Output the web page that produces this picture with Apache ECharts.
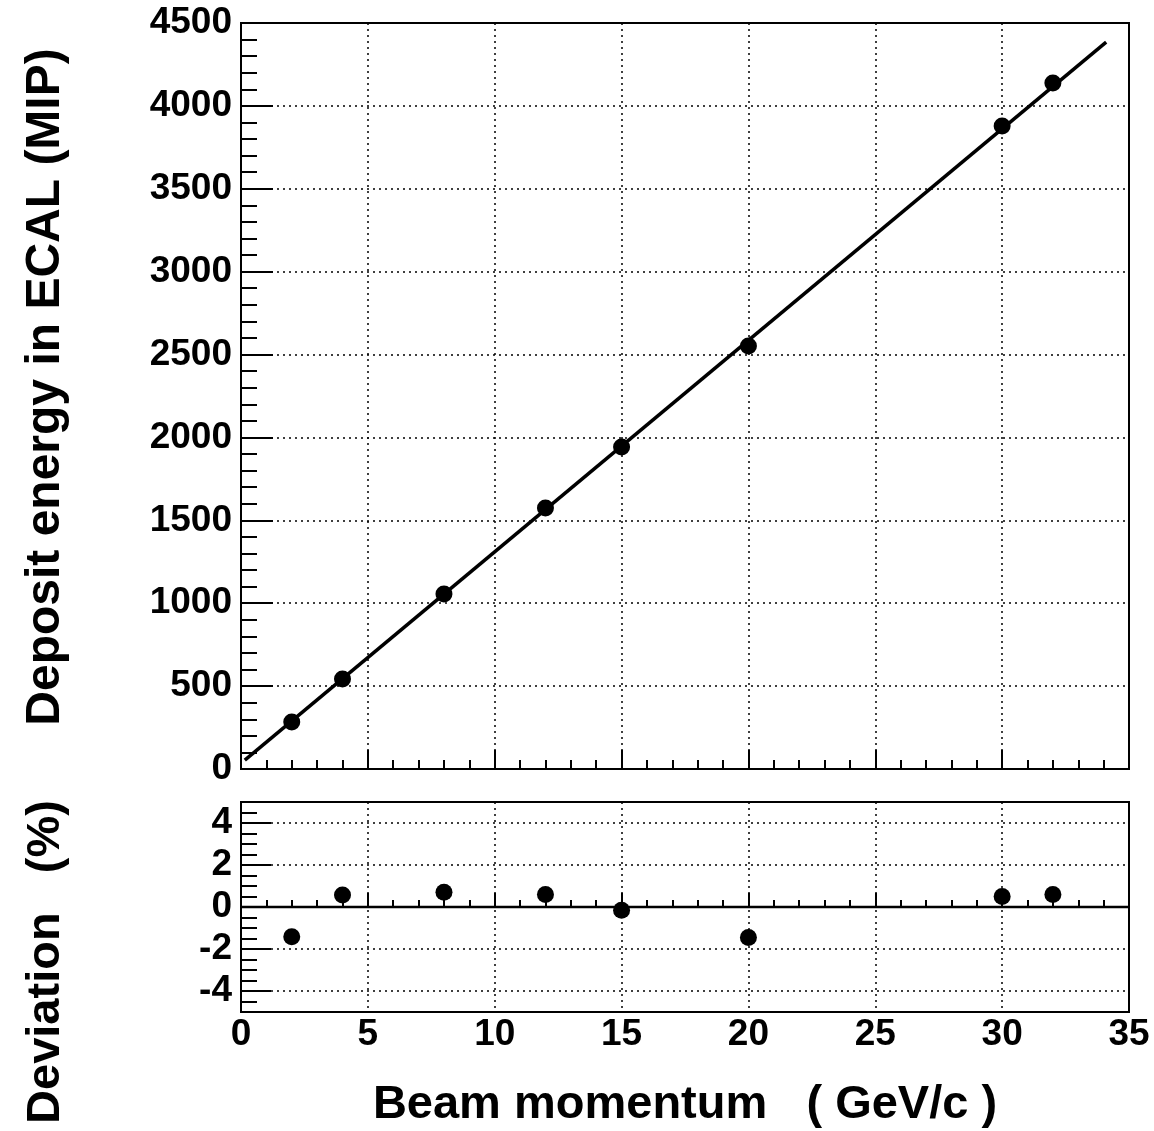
<!DOCTYPE html>
<html>
<head>
<meta charset="utf-8">
<script src="https://cdn.jsdelivr.net/npm/echarts@6/dist/echarts.min.js"></script>
<style>html,body{margin:0;padding:0;background:#fff;}#c{width:1154px;height:1131px;}</style>
</head>
<body>
<div id="c"></div>
<script>
// ---- data ----
const momentum = [2, 4, 8, 12, 15, 20, 30, 32];
const deposit = [283, 543, 1055, 1574, 1942, 2551, 3878, 4138];
const deviation = [-1.42, 0.57, 0.7, 0.6, -0.15, -1.45, 0.5, 0.6];
const fitX = [0.15, 34.1];
const fitY = [54, 4385];
const zeroX = [0, 35];
const zeroY = [0, 0];
const devTicks = [-4, -2, 0, 2, 4];

const FONT = '"Liberation Sans", Arial, Helvetica, sans-serif';
const chart = echarts.init(document.getElementById('c'), null, {renderer: 'canvas'});
const dotted = {color: '#000', width: 1.5, type: [2, 4]};
const plain = v => String(v);
const lbl = {color: '#000', fontFamily: FONT, fontWeight: 'bold', fontSize: 37, formatter: plain};

chart.setOption({
  animation: false,
  backgroundColor: '#fff',
  grid: [
    {left: 241, top: 23, width: 888, height: 746, show: true, borderColor: '#000', borderWidth: 2, containLabel: false},
    {left: 241, top: 802, width: 888, height: 210, show: true, borderColor: '#000', borderWidth: 2, containLabel: false}
  ],
  xAxis: [
    {type: 'value', gridIndex: 0, min: 0, max: 35, interval: 5,
     axisLine: {show: false}, axisLabel: {show: false},
     axisTick: {show: true, inside: true, length: 19, lineStyle: {color: '#000', width: 2}},
     minorTick: {show: true, splitNumber: 5, length: 9, lineStyle: {color: '#000', width: 2}},
     splitLine: {show: true, lineStyle: dotted}},
    {type: 'value', gridIndex: 1, min: 0, max: 35, interval: 5,
     axisLine: {show: false},
     axisLabel: Object.assign({margin: 4, showMinLabel: true, showMaxLabel: true}, lbl),
     axisTick: {show: true, inside: true, length: 14, lineStyle: {color: '#000', width: 2}},
     minorTick: {show: true, splitNumber: 5, length: 7, lineStyle: {color: '#000', width: 2}},
     splitLine: {show: true, lineStyle: dotted},
     name: 'Beam momentum   ( GeV/c )', nameLocation: 'middle', nameGap: 70,
     nameTextStyle: {color: '#000', fontFamily: FONT, fontWeight: 'bold', fontSize: 47}}
  ],
  yAxis: [
    {type: 'value', gridIndex: 0, min: 0, max: 4500, interval: 500,
     axisLine: {show: false},
     axisLabel: Object.assign({margin: 9, showMinLabel: true, showMaxLabel: true}, lbl),
     axisTick: {show: true, inside: true, length: 32, lineStyle: {color: '#000', width: 2}},
     minorTick: {show: true, splitNumber: 5, length: 16, lineStyle: {color: '#000', width: 2}},
     splitLine: {show: true, lineStyle: dotted}},
    {type: 'value', gridIndex: 1, min: -5, max: 5, interval: 0.5,
     axisLine: {show: false}, axisLabel: {show: false},
     axisTick: {show: true, inside: true, length: 16, lineStyle: {color: '#000', width: 2}},
     splitLine: {show: false}},
    {type: 'value', gridIndex: 1, min: -5, max: 5, interval: 1, position: 'left',
     axisLine: {show: false},
     axisLabel: Object.assign({margin: 9, customValues: devTicks}, lbl),
     axisTick: {show: true, inside: true, length: 30, customValues: devTicks, lineStyle: {color: '#000', width: 2}},
     splitLine: {show: true, lineStyle: dotted}}
  ],
  graphic: [
    {type: 'text', x: 46, y: 387, rotation: Math.PI / 2,
     style: {text: 'Deposit energy in ECAL (MIP)', fill: '#000', font: 'bold 48px ' + FONT, align: 'center', verticalAlign: 'middle'}},
    {type: 'text', x: 46, y: 962, rotation: Math.PI / 2,
     style: {text: 'Deviation   (%)', fill: '#000', font: 'bold 47px ' + FONT, align: 'center', verticalAlign: 'middle'}}
  ],
  series: [
    {type: 'line', xAxisIndex: 0, yAxisIndex: 0, data: fitX.map((x, i) => [x, fitY[i]]),
     symbol: 'none', lineStyle: {color: '#000', width: 3.5}, z: 3},
    {type: 'scatter', xAxisIndex: 0, yAxisIndex: 0, data: momentum.map((x, i) => [x, deposit[i]]),
     symbol: 'circle', symbolSize: 17, itemStyle: {color: '#000', opacity: 1}, z: 5},
    {type: 'line', xAxisIndex: 1, yAxisIndex: 2, data: zeroX.map((x, i) => [x, zeroY[i]]),
     symbol: 'none', lineStyle: {color: '#000', width: 2.5}, z: 3},
    {type: 'scatter', xAxisIndex: 1, yAxisIndex: 2, data: momentum.map((x, i) => [x, deviation[i]]),
     symbol: 'circle', symbolSize: 17, itemStyle: {color: '#000', opacity: 1}, z: 5}
  ]
});
</script>
</body>
</html>
